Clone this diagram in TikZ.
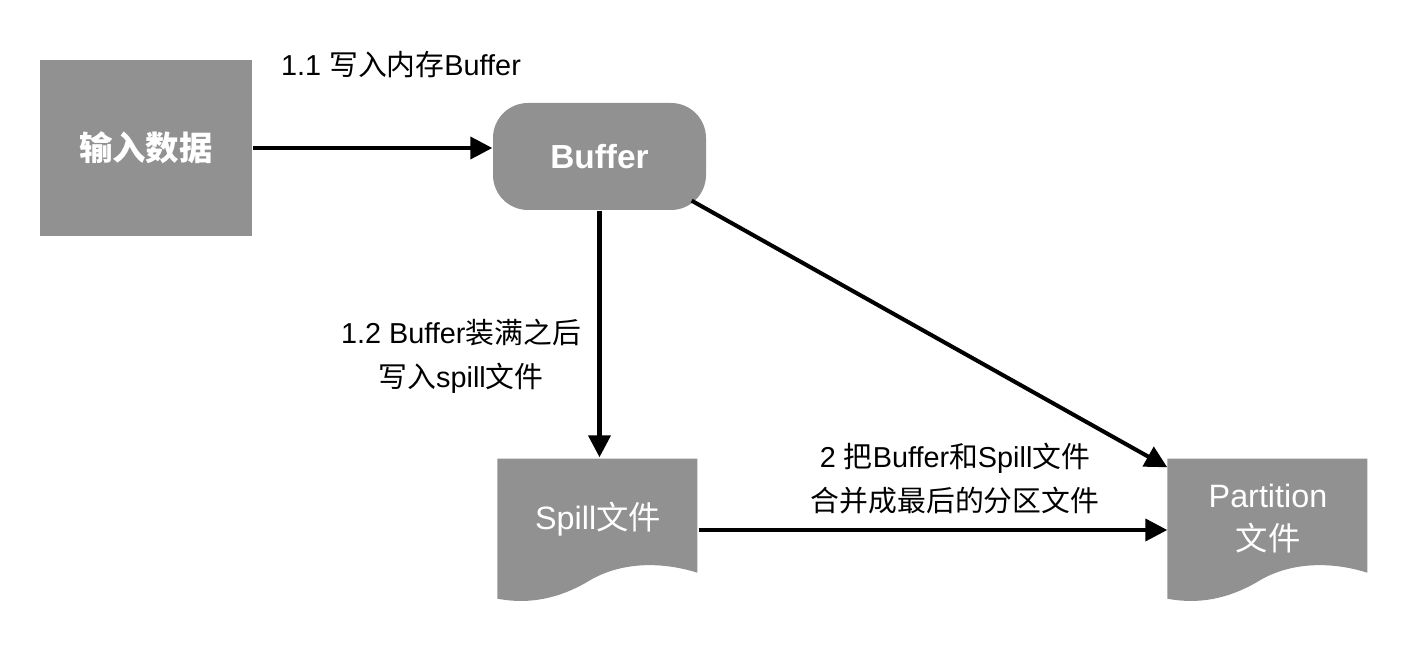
\documentclass[tikz,border=0pt]{standalone}
\usepackage{fontspec}
\setmainfont{Liberation Sans}
\newfontfamily\cjk{Noto Sans CJK SC}
\usetikzlibrary{arrows.meta,backgrounds}
\definecolor{boxgray}{HTML}{919191}
\tikzset{
  box/.style={fill=boxgray, text=white, font=\fontsize{9.5}{12}\selectfont\bfseries},
  docbox/.style={text=white, minimum width=2cm, minimum height=1.22cm, align=center, font=\fontsize{9.2}{12.2}\selectfont},
  arr/.style={-{Triangle[length=0.22cm,width=0.22cm]}, line width=1.15pt},
  lbl/.style={align=center, font=\fontsize{8.2}{12.5}\selectfont}
}
\begin{document}
\begin{tikzpicture}
\useasboundingbox (0,0) rectangle (14.08,6.52);
\node[box, minimum width=2.12cm, minimum height=1.76cm] (input) at (1.46,5.04) {{\cjk 输入数据}};
\node[box, rounded corners=0.35cm, minimum width=2.13cm, minimum height=1.07cm] (buffer) at (5.995,4.955) {Buffer};
\node[docbox] (spill) at (5.98,1.33) {Spill{\cjk 文件}};
\node[docbox] (part) at (12.68,1.33) {Partition\\{\cjk 文件}};
% file shapes with wavy bottom
\begin{pgfonlayer}{background}
\foreach \n in {spill,part}{
  \begin{scope}[shift={(\n.south west)}]
    \fill[boxgray] (0,1.22) -- (2,1.22) -- (2,0.08) .. controls (1.62,0.2) and (1.22,0.18) .. (0.92,0) .. controls (0.62,-0.18) and (0.32,-0.24) .. (0,-0.18) -- cycle;
  \end{scope}
}
\end{pgfonlayer}

\draw[arr] (input.east) -- (input.east -| buffer.west);
\node[lbl] (l11) at (4.01,5.87) {1.1 {\cjk 写入内存}Buffer};

\draw[arr] (buffer.south) -- (buffer.south |- spill.north);
\node[lbl] (l12) at (4.61,2.96) {1.2 Buffer{\cjk 装满之后}\\{\cjk 写入}spill{\cjk 文件}};

\draw[arr] ([xshift=-0.15cm,yshift=0.1cm]buffer.south east) -- ([yshift=-0.1cm]part.north west);
\draw[arr] ([yshift=-0.11cm]spill.east) -- ([yshift=-0.11cm]part.west);
\node[lbl] (l2) at (9.55,1.73) {2 {\cjk 把}Buffer{\cjk 和}Spill{\cjk 文件}\\{\cjk 合并成最后的分区文件}};
\end{tikzpicture}
\end{document}
